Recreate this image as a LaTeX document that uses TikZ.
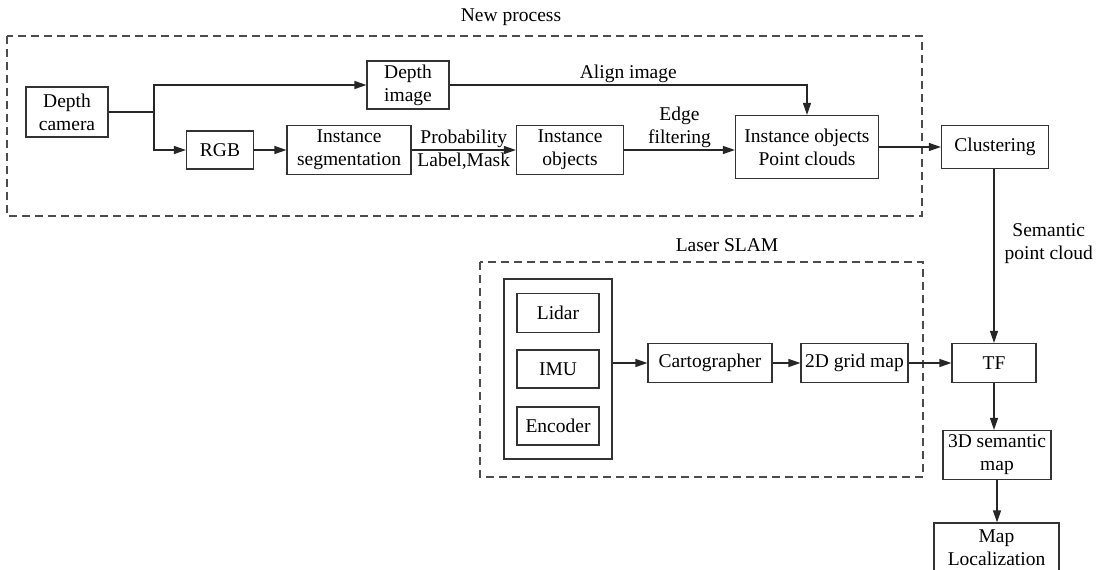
\documentclass[tikz,border=0pt]{standalone}
\usepackage{fontspec}
\setmainfont{Liberation Serif}
\usetikzlibrary{arrows.meta}
\begin{document}
\begin{tikzpicture}[x=1pt,y=-1pt,
  font=\fontsize{19.5}{23}\selectfont,
  box/.style={draw=black!80,line width=1.2pt,align=center,inner sep=0pt},
  group/.style={draw=black!70,line width=1.2pt,dash pattern=on 8pt off 5pt},
  link/.style={draw=black!85,line width=1.2pt,-{Triangle[length=12pt,width=8pt]}},
  lbl/.style={align=center,inner sep=2pt}]
\useasboundingbox (0,0) rectangle (1100,570);
% dashed groups
\draw[group] (7,36) rectangle (922,216);
\draw[group] (480,262) rectangle (923,477);
\node (tnew) at (511,17) {New process};
\node (tslam) at (727,245) {Laser SLAM};
% new process
\node[box,minimum width=82pt,minimum height=50pt] (cam) at (67,112) {Depth\\camera};
\node[box,minimum width=82pt,minimum height=48pt] (dimg) at (408,85) {Depth\\image};
\node[box,minimum width=67pt,minimum height=38pt] (rgb) at (220,150) {RGB};
\node[box,minimum width=124pt,minimum height=49pt] (seg) at (349,150) {Instance\\segmentation};
\node[box,minimum width=107pt,minimum height=49pt] (obj) at (570,150) {Instance\\objects};
\node[box,minimum width=143pt,minimum height=63pt] (iopc) at (807,147) {Instance objects\\Point clouds};
\node[box,minimum width=107pt,minimum height=43pt] (clu) at (995,147) {Clustering};
% laser slam
\node[box,minimum width=108pt,minimum height=180pt] (sens) at (558,369) {};
\node[box,minimum width=82pt,minimum height=39pt] (lidar) at (558,313) {Lidar};
\node[box,minimum width=82pt,minimum height=38pt] (imu) at (558,369) {IMU};
\node[box,minimum width=82pt,minimum height=38pt] (enc) at (558,426) {Encoder};
\node[box,minimum width=124pt,minimum height=39pt] (carto) at (710,363) {Cartographer};
\node[box,minimum width=107pt,minimum height=39pt] (grid) at (854.5,363) {2D grid map};
% right column
\node[box,minimum width=84pt,minimum height=39pt] (tf) at (994,363) {TF};
\node[box,minimum width=108pt,minimum height=49pt] (sem3d) at (997,455) {3D semantic\\map};
\node[box,minimum width=125pt,minimum height=50pt] (mloc) at (996.5,548) {Map\\Localization};
% connectors
\coordinate (split) at (154,112);
\draw[draw=black!85,line width=1.2pt] (cam) -- (split);
\draw[link] (split) |- (dimg);
\draw[link] (split) |- (rgb);
\draw[link] (rgb) -- (seg);
\draw[link] (seg) -- (obj)
  node[lbl,midway,above] {Probability}
  node[lbl,midway,below] {Label,Mask};
\draw[link] (obj) -- (obj -| iopc.west) node[lbl,midway,above] {Edge\\filtering};
\draw[link] (dimg) -| (iopc) node[lbl,pos=0.25,above] {Align image};
\draw[link] (iopc) -- (clu);
\draw[link] (tf.north |- clu.south) -- (tf.north) node[lbl,pos=0.43,right=8pt] {Semantic\\point cloud};
\draw[link] (sens.east |- carto) -- (carto);
\draw[link] (carto) -- (grid);
\draw[link] (grid) -- (tf);
\draw[link] (tf.south) -- (tf.south |- sem3d.north);
\draw[link] (sem3d.south) -- (sem3d.south |- mloc.north);
\end{tikzpicture}
\end{document}
